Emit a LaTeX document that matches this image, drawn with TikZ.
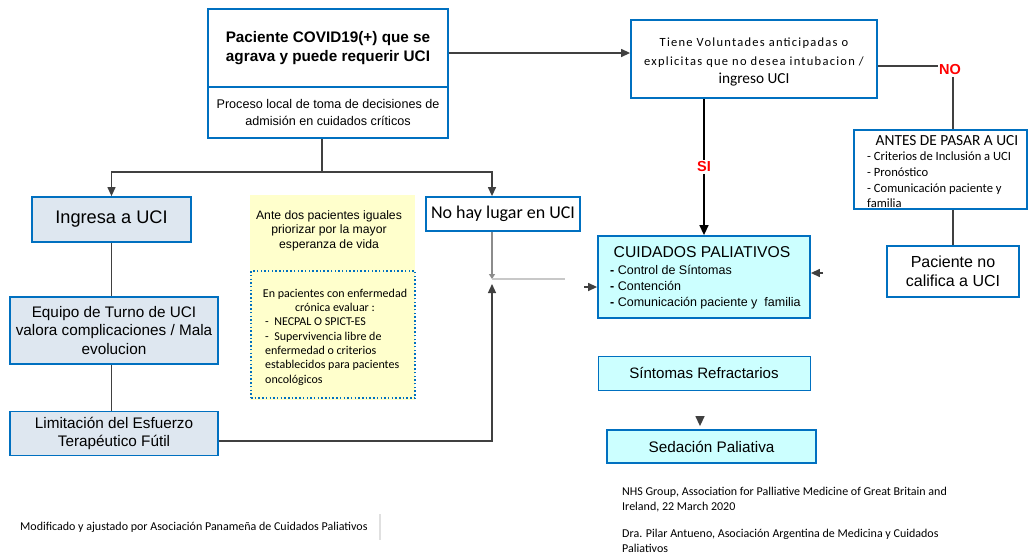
\documentclass[tikz,border=0pt]{standalone}
\usepackage{fontspec}
\setmainfont{Liberation Sans}
\newfontfamily\calfont{Carlito}
\newfontfamily\calspaced[LetterSpace=10]{Carlito}
\usetikzlibrary{arrows.meta}
\definecolor{boxblue}{HTML}{0070C0}
\definecolor{linegray}{HTML}{404040}
\definecolor{softgray}{HTML}{C8C8C8}
\definecolor{midgray}{HTML}{8C8C8C}
\definecolor{cyanfill}{HTML}{CCFFFF}
\definecolor{ingfill}{HTML}{DEE7F0}
\definecolor{yellowfill}{HTML}{FFFFCC}
\definecolor{signred}{HTML}{FF0000}
\tikzset{
  box/.style={draw=boxblue, line width=1.8pt, inner sep=0pt, align=center, fill=white},
  txt/.style={inner sep=0pt},
  conn/.style={draw=linegray, line width=1.3pt},
  tip/.style={-{Triangle[length=9pt,width=8pt]}},
  label/.style={fill=white, text=signred, inner sep=1.5pt, font=\bfseries\fontsize{14.5}{16}\selectfont},
}
\begin{document}
\begin{tikzpicture}[x=1pt,y=-1pt]
\useasboundingbox[fill=white] (0,0) rectangle (1029,555);

% --- top decision block ---
\node[box, minimum width=240pt, minimum height=78pt, font=\bfseries\fontsize{15.3}{19}\selectfont] (top) at (328,48) {Paciente COVID19(+) que se\\agrava y puede requerir UCI};
\node[box, minimum width=240pt, minimum height=51pt, font=\fontsize{12.6}{17}\selectfont] (proc) at (328,112.5) {Proceso local de toma de decisiones de\\admisión en cuidados críticos};

% --- advance directives question ---
\node[box, minimum width=246pt, minimum height=78pt] (tiene) at (754,59) {};
\node[txt, align=center, font=\calspaced\fontsize{12.5}{18.5}\selectfont] (tieneT) at (754,62) {Tiene Voluntades anticipadas o\\explicitas que no desea intubacion /\\{\calfont\fontsize{15.3}{18}\selectfont ingreso UCI}};

% --- before ICU block ---
\node[box, minimum width=173pt, minimum height=79pt] (antes) at (940.5,169.5) {};
\node[txt, font=\calfont\fontsize{15.4}{17}\selectfont] (antesT) at (947,140.5) {ANTES DE PASAR A UCI};
\node[txt, font=\calfont\fontsize{12.6}{15.6}\selectfont, align=left, anchor=north west] (antesL) at (867,152) {- Criterios de Inclusión a UCI\\- Pronóstico\\- Comunicación paciente y\\familia};

\node[box, minimum width=132pt, minimum height=51pt, font=\fontsize{16}{19}\selectfont] (nocal) at (953,271.5) {Paciente no\\califica a UCI};

% --- palliative care ---
\node[box, fill=cyanfill, minimum width=212pt, minimum height=82pt] (cp) at (704,277) {};
\node[txt, font=\fontsize{15.7}{17}\selectfont] (cpT) at (702,252.5) {CUIDADOS PALIATIVOS};
\node[txt, font=\fontsize{12.5}{16}\selectfont, align=left, anchor=north west] (cpL) at (610,265) {\textbf{-} Control de Síntomas\\\textbf{-} Contención\\\textbf{-} Comunicación paciente y\ \ familia};

\node[box, line width=1pt, fill=cyanfill, minimum width=212pt, minimum height=34pt, font=\fontsize{15.1}{17}\selectfont] (sint) at (704,373) {Síntomas Refractarios};
\node[box, fill=cyanfill, minimum width=209pt, minimum height=33pt, font=\fontsize{15.3}{17}\selectfont] (sed) at (711.5,446.5) {Sedación Paliativa};

% --- ICU branch ---
\node[box, fill=ingfill, minimum width=159pt, minimum height=45pt, font=\fontsize{18.2}{21}\selectfont] (ing) at (111.5,219.5) {Ingresa a UCI};
\node[box, fill=ingfill, minimum width=208pt, minimum height=67pt, font=\fontsize{15.3}{18.5}\selectfont] (eq) at (114,330.5) {Equipo de Turno de UCI\\valora complicaciones / Mala\\evolucion};
\node[box, fill=ingfill, minimum width=208pt, minimum height=44pt, font=\fontsize{15.3}{18}\selectfont] (lim) at (114,433.5) {Limitación del Esfuerzo\\Terapéutico Fútil};

\node[box, minimum width=154pt, minimum height=34pt, font=\calfont\fontsize{18}{20}\selectfont] (nohay) at (503,214) {No hay lugar en UCI};

% --- priority note ---
\node[fill=yellowfill, minimum width=165pt, minimum height=205pt, inner sep=0pt] (yel) at (332.5,297.5) {};
\node[txt, font=\fontsize{12.2}{14.5}\selectfont, align=center] (yelT) at (329,230.5) {Ante dos pacientes iguales\\priorizar por la mayor\\esperanza de vida};
\node[draw=boxblue, line width=1.5pt, dash pattern=on 1.5pt off 2.2pt, minimum width=164pt, minimum height=127pt, inner sep=0pt] (dot) at (333,334.5) {};
\node[txt, font=\calfont\fontsize{12}{14.3}\selectfont, align=center] (dotT) at (335,300.5) {En pacientes con enfermedad\\crónica evaluar :};
\node[txt, font=\calfont\fontsize{12}{14.3}\selectfont, align=left, anchor=north west] (dotL) at (265,318) {-\ \ NECPAL O SPICT-ES\\-\ \ Supervivencia libre de\\enfermedad o criterios\\establecidos para pacientes\\oncológicos};

% --- references ---
\node[txt, font=\calfont\fontsize{12}{15}\selectfont, align=left, anchor=north west] (nhs) at (622,487) {NHS Group, Association for Palliative Medicine of Great Britain and\\Ireland, 22 March 2020};
\node[txt, font=\calfont\fontsize{12}{14.5}\selectfont, align=left, anchor=north west] (dra) at (622,529) {Dra. Pilar Antueno, Asociación Argentina de Medicina y Cuidados\\Paliativos};
\node[txt, font=\calfont\fontsize{12}{13}\selectfont, anchor=west] (mod) at (20,527) {Modificado y ajustado por Asociación Panameña de Cuidados Paliativos};
\draw[black!12, line width=2pt] ([xshift=12pt,yshift=13pt]mod.east) -- ([xshift=12pt,yshift=-13pt]mod.east);

% --- connectors ---
\draw[conn, tip] (top.east |- 0,53) -- (tiene.west |- 0,53);
\draw[conn] (tiene.east |- 0,66) -| (antes.north -| nocal.north)
  node[label, pos=0.5, xshift=-3pt, yshift=-4pt] (no) {NO};
\draw[conn] (nocal.north |- antes.south) -- (nocal.north);
\draw[draw=black, line width=1.5pt, -{Triangle[length=10pt,width=9pt]}] (cp.north |- tiene.south) -- node[label] (si) {SI} (cp.north);

\coordinate (split) at (322,172);
\draw[conn] (split |- proc.south) -- (split);
\draw[conn, tip] (split) -| (ing.north);
\draw[conn, tip] (split) -| (nohay.north -| 492,0);

\draw[conn] (ing.south) -- (ing.south |- eq.north);
\draw[conn] (ing.south |- eq.south) -- (ing.south |- lim.north);

\coordinate (mergeUp) at (492,284);
\coordinate (mergeDn) at (492,279);
\coordinate (stub) at (565,279);
\draw[conn, tip] (lim.east |- 0,441) -| (mergeUp);
\draw[draw=midgray, line width=1.3pt, -{Triangle[length=5pt,width=6pt]}] (nohay.south -| mergeDn) -- (mergeDn);
\draw[draw=softgray, line width=1.3pt] (mergeDn) -- (stub);

\coordinate (cpin) at (584,287);
\draw[conn, tip] (cpin) -- (cp.west |- cpin);
\coordinate (cprin) at (823,273);
\draw[conn, tip] (cprin) -- (cp.east |- cprin);
\coordinate (sedin) at (700,416);
\draw[conn, -{Triangle[length=10pt,width=9pt]}, shorten >=3pt] (sedin) -- (sedin |- sed.north);
\end{tikzpicture}
\end{document}
